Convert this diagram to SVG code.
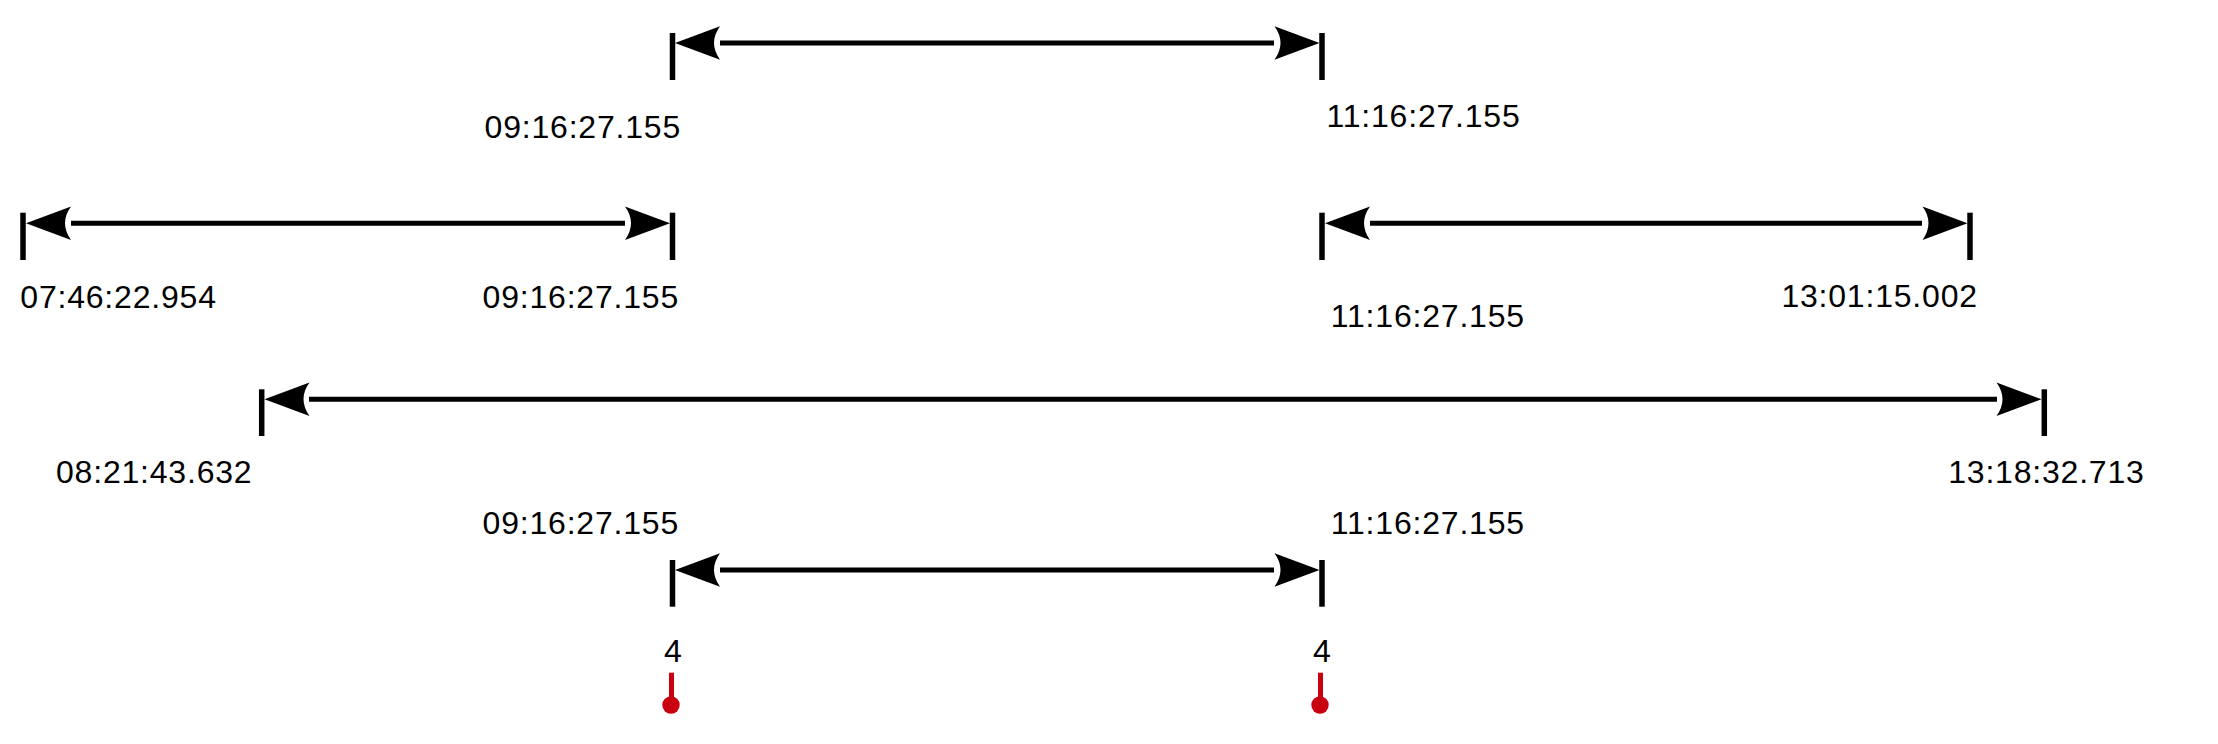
<svg xmlns="http://www.w3.org/2000/svg" xmlns:xlink="http://www.w3.org/1999/xlink" width="2218" height="744" viewBox="0 0 2218 744">
<style>
.lbl{font-family:"Liberation Sans",Arial,sans-serif;font-size:32px;fill:#000;letter-spacing:0.8px}
.num{font-family:"Liberation Sans",Arial,sans-serif;font-size:32px;fill:#000;text-anchor:middle}
.tick{stroke:#000;stroke-width:5.5;fill:none}
.line{stroke:#000;stroke-width:5;fill:none}
.head{fill:#000}
.pin{stroke:#c8000f;stroke-width:5;fill:none}
.pinhead{fill:#c8000f}
</style>
<defs>
<path id="ahL" class="head" d="M0,0 L45,-16.7 Q33,0 45,16.7 Z"/>
<path id="ahR" class="head" d="M0,0 L-45,-16.7 Q-33,0 -45,16.7 Z"/>
</defs>
<rect width="2218" height="744" fill="#fff"/>

<g id="connectors">
  <line class="line" x1="720" y1="43" x2="1274" y2="43"/>
  <use xlink:href="#ahL" href="#ahL" x="675" y="43"/>
  <use xlink:href="#ahR" href="#ahR" x="1319.5" y="43"/>

  <line class="line" x1="71" y1="223.3" x2="625" y2="223.3"/>
  <use xlink:href="#ahL" href="#ahL" x="26" y="223.3"/>
  <use xlink:href="#ahR" href="#ahR" x="670" y="223.3"/>

  <line class="line" x1="1370" y1="223.3" x2="1922" y2="223.3"/>
  <use xlink:href="#ahL" href="#ahL" x="1325" y="223.3"/>
  <use xlink:href="#ahR" href="#ahR" x="1967.5" y="223.3"/>

  <line class="line" x1="309" y1="399.3" x2="1997" y2="399.3"/>
  <use xlink:href="#ahL" href="#ahL" x="264.5" y="399.3"/>
  <use xlink:href="#ahR" href="#ahR" x="2041.5" y="399.3"/>

  <line class="line" x1="720" y1="570" x2="1274" y2="570"/>
  <use xlink:href="#ahL" href="#ahL" x="675" y="570"/>
  <use xlink:href="#ahR" href="#ahR" x="1319.5" y="570"/>
</g>

<g id="interval-top">
  <line class="tick" x1="672.5" y1="33" x2="672.5" y2="80"/>
  <line class="tick" x1="1322" y1="33" x2="1322" y2="80"/>
  <text class="lbl" x="484.6" y="138">09:16:27.155</text>
  <text class="lbl" x="1326.5" y="127.3">11:16:27.155</text>
</g>

<g id="interval-left">
  <line class="tick" x1="23" y1="212.7" x2="23" y2="260"/>
  <line class="tick" x1="672.5" y1="212.7" x2="672.5" y2="260"/>
  <text class="lbl" x="20.3" y="307.8">07:46:22.954</text>
  <text class="lbl" x="482.6" y="307.5">09:16:27.155</text>
</g>

<g id="interval-right">
  <line class="tick" x1="1322" y1="212.7" x2="1322" y2="260"/>
  <line class="tick" x1="1970" y1="212.7" x2="1970" y2="260"/>
  <text class="lbl" x="1330.8" y="327.3">11:16:27.155</text>
  <text class="lbl" x="1781.4" y="307">13:01:15.002</text>
</g>

<g id="interval-long">
  <line class="tick" x1="261.7" y1="389.3" x2="261.7" y2="436"/>
  <line class="tick" x1="2044.3" y1="389.3" x2="2044.3" y2="436"/>
  <text class="lbl" x="56" y="483">08:21:43.632</text>
  <text class="lbl" x="1948.2" y="483.3">13:18:32.713</text>
</g>

<g id="interval-bottom">
  <line class="tick" x1="672.5" y1="560" x2="672.5" y2="606.7"/>
  <line class="tick" x1="1322" y1="560" x2="1322" y2="606.7"/>
  <text class="lbl" x="482.6" y="534">09:16:27.155</text>
  <text class="lbl" x="1330.8" y="534">11:16:27.155</text>
</g>

<g id="pin-left">
  <text class="num" x="673" y="661.5">4</text>
  <line class="pin" x1="671.5" y1="672.7" x2="671.5" y2="700"/>
  <circle class="pinhead" cx="671" cy="705" r="8.7"/>
</g>

<g id="pin-right">
  <text class="num" x="1322" y="661.5">4</text>
  <line class="pin" x1="1320.5" y1="672.7" x2="1320.5" y2="700"/>
  <circle class="pinhead" cx="1320" cy="705" r="8.7"/>
</g>
</svg>
